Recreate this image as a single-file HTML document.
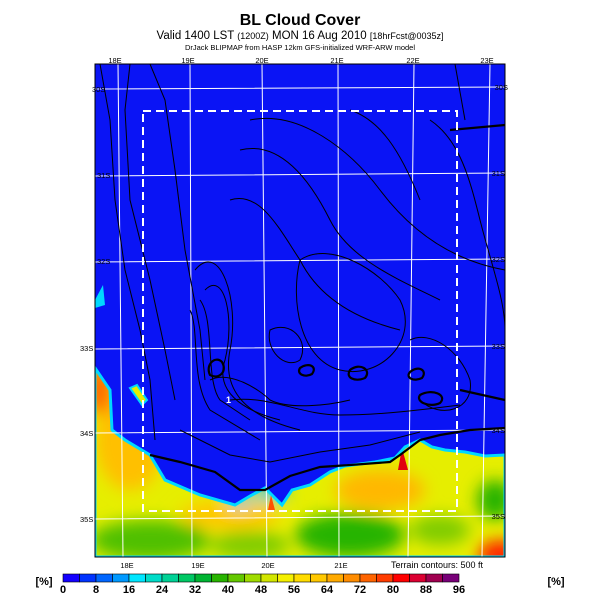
<!DOCTYPE html>
<html><head><meta charset="utf-8"><style>
body{margin:0;background:#fff;}
svg{display:block;font-family:"Liberation Sans",sans-serif;}
</style></head><body>
<svg width="600" height="600" viewBox="0 0 600 600">
<defs>
<clipPath id="mapclip"><rect x="95" y="64" width="410" height="493"/></clipPath>
<clipPath id="landclip"><path id="landpath" d="M95,368 L110,390 L112,430 L125,440 L150,455 L165,480 L200,495 L235,505 L250,496 L265,488 L275,498 L282,505 L292,490 L310,485 L330,472 L345,466 L375,462 L395,458 L405,447 L420,440 L432,447 L445,450 L465,452 L485,456 L505,455 L505,557 L95,557Z"/></clipPath>
<filter id="blur"><feGaussianBlur stdDeviation="8"/></filter>
</defs>
<text x="300" y="25" font-size="16" font-weight="bold" text-anchor="middle">BL Cloud Cover</text>
<text x="300" y="39" font-size="11.5" text-anchor="middle">Valid 1400 LST <tspan font-size="9">(1200Z)</tspan> MON 16 Aug 2010 <tspan font-size="9">[18hrFcst@0035z]</tspan></text>
<text x="300" y="50" font-size="7.5" text-anchor="middle">DrJack BLIPMAP from HASP 12km GFS-initialized WRF-ARW model</text>
<g clip-path="url(#mapclip)">
<rect x="95" y="64" width="410" height="493" fill="#0a14f5"/>
<g clip-path="url(#landclip)">
<rect x="95" y="360" width="410" height="200" fill="#e6ee00"/>
<g filter="url(#blur)">
<ellipse cx="130" cy="440" rx="35" ry="50" fill="#ffc000"/>
<ellipse cx="100" cy="390" rx="12" ry="25" fill="#ff6000"/>
<ellipse cx="230" cy="515" rx="50" ry="15" fill="#ffc800"/>
<ellipse cx="380" cy="490" rx="45" ry="20" fill="#ffb800"/>
<ellipse cx="150" cy="540" rx="60" ry="20" fill="#50c000"/>
<ellipse cx="250" cy="545" rx="40" ry="14" fill="#80cc00"/>
<ellipse cx="350" cy="535" rx="55" ry="22" fill="#28b400"/>
<ellipse cx="440" cy="530" rx="30" ry="15" fill="#80cc00"/>
<ellipse cx="495" cy="500" rx="18" ry="20" fill="#28b400"/>
<ellipse cx="500" cy="555" rx="22" ry="15" fill="#ff2000"/>
<ellipse cx="270" cy="492" rx="18" ry="8" fill="#00c8ff"/>
<ellipse cx="240" cy="500" rx="12" ry="6" fill="#00c8ff"/>
</g>
<path d="M398,470 L402,448 L408,470Z" fill="#e00010"/>
<path d="M268,510 L271,495 L275,510Z" fill="#ff5000"/>
</g>
<use href="#landpath" fill="none" stroke="#00d8ff" stroke-width="3"/>
<path d="M95,300 L103,285 L105,305 L95,308Z" fill="#00d8ff"/>
<path d="M130,388 L137,385 L147,400 L142,405Z" fill="#e6ee00" stroke="#00d8ff" stroke-width="2"/>
<g stroke="#fff" stroke-width="1" fill="none">
<path d="M118,64 L123,557 M190,64 L192,557 M262,64 L267,557 M338,64 L339,557 M414,64 L408,557 M490,64 L482,557"/>
<path d="M95,89 L505,87 M95,176 L505,173 M95,262 L505,259 M95,349 L505,346 M95,433 L505,430 M95,519 L505,516"/>
</g>
<g stroke="#000" stroke-width="1" fill="none">
<path d="M100,64 L110,120 L115,200 L125,270 L140,330 L150,380 L155,440"/>
<path d="M130,64 L125,110 L130,200 L150,280 L165,350 L175,400"/>
<path d="M150,64 L165,100 L175,170 L185,250 L200,330 L205,380"/>
<path d="M195,270 C220,240 240,300 230,350 C220,400 260,420 300,430"/>
<path d="M205,290 C225,270 235,320 225,360 C215,390 240,410 280,420"/>
<path d="M190,310 C200,330 190,380 210,410 L260,440"/>
<path d="M200,300 C215,320 205,380 220,400 L250,420"/>
<path d="M230,200 C260,190 280,230 300,260 C320,300 360,320 400,330"/>
<path d="M240,150 C280,140 310,180 330,220 C350,260 400,280 440,300"/>
<path d="M250,120 C300,110 350,150 380,190 C410,230 450,260 505,270"/>
<path d="M300,260 C330,240 380,270 400,300 C420,340 380,380 340,370 C300,360 290,300 300,260"/>
<path d="M410,340 C430,330 460,350 470,380 C475,410 440,420 420,400"/>
<path d="M430,120 C460,140 470,180 480,220 C490,260 505,300 505,330"/>
<path d="M455,64 L465,120"/>
<path d="M350,110 C380,120 400,150 420,200"/>
<path d="M270,330 C290,320 310,340 300,360 C285,370 265,350 270,330Z"/>
<path d="M210,380 C230,370 260,390 270,400 C290,410 330,405 350,400"/>
<path d="M230,400 C270,395 300,415 340,415 C380,415 420,410 460,405"/>
<path d="M180,430 L230,455 L270,462 L320,452 L370,445 L420,432"/>
</g>
<g stroke="#000" stroke-width="2.2" fill="none">
<path d="M150,455 L180,462 L215,472 L240,490 L265,490 L290,476 L320,467 L350,465 L390,462 L400,455 L420,440 L440,435 L470,430 L505,428"/>
<path d="M210,375 C205,365 215,355 222,362 C228,372 218,380 210,375Z"/>
<path d="M300,368 C308,362 318,366 312,374 C305,378 296,374 300,368Z"/>
<path d="M350,370 C360,362 372,370 365,378 C355,382 345,378 350,370Z"/>
<path d="M410,372 C418,365 428,370 422,378 C414,382 405,378 410,372Z"/>
<path d="M420,395 C432,388 448,395 440,403 C430,408 415,402 420,395Z"/>
<path d="M460,390 L505,400"/>
<path d="M450,130 L505,125"/>
</g>
<text x="226" y="403" font-size="9" fill="#fff" font-weight="bold">1</text>
<rect x="143" y="111" width="314" height="400" fill="none" stroke="#fff" stroke-width="2" stroke-dasharray="8,5"/>
</g>
<rect x="95" y="64" width="410" height="493" fill="none" stroke="#000" stroke-width="1"/>
<g font-size="7.5">
<text x="115" y="63" text-anchor="middle">18E</text><text x="188" y="63" text-anchor="middle">19E</text><text x="262" y="63" text-anchor="middle">20E</text><text x="337" y="63" text-anchor="middle">21E</text><text x="413" y="63" text-anchor="middle">22E</text><text x="487" y="63" text-anchor="middle">23E</text>
<text x="127" y="568" text-anchor="middle">18E</text><text x="198" y="568" text-anchor="middle">19E</text><text x="268" y="568" text-anchor="middle">20E</text><text x="341" y="568" text-anchor="middle">21E</text>
<text x="483" y="568" text-anchor="end" font-size="9">Terrain contours: 500 ft</text>
<text x="92" y="92">30S</text><text x="508" y="90" text-anchor="end">30S</text>
<text x="97" y="178">31S</text><text x="505" y="176" text-anchor="end">31S</text>
<text x="97" y="264">32S</text><text x="505" y="262" text-anchor="end">32S</text>
<text x="80" y="351">33S</text><text x="505" y="349" text-anchor="end">33S</text>
<text x="80" y="436">34S</text><text x="505" y="433" text-anchor="end">34S</text>
<text x="80" y="522">35S</text><text x="505" y="519" text-anchor="end">35S</text>
</g>
<g id="colorbar"></g>
<text x="44" y="585" font-size="11" font-weight="bold" text-anchor="middle">[%]</text>
<text x="556" y="585" font-size="11" font-weight="bold" text-anchor="middle">[%]</text>
<script>
const barColors=["#1400ff","#0033ff","#0066ff","#0099ff","#00e6ff","#00dcc8","#00d296","#00c864","#00b432","#28b400","#64c800","#a0dc00","#d2e600","#f5f000","#ffdc00","#ffc800","#ffaa00","#ff8c00","#ff6400","#ff3c00","#ff0000","#dc0032","#a00050","#780078"];
const tickLabels=["0","8","16","24","32","40","48","56","64","72","80","88","96"];
const g=document.getElementById('colorbar');
const NS='http://www.w3.org/2000/svg';
const x0=63,x1=459,w=(x1-x0)/barColors.length;
barColors.forEach((c,i)=>{
  const r=document.createElementNS(NS,'rect');
  r.setAttribute('x',x0+i*w);r.setAttribute('y',574);r.setAttribute('width',w);r.setAttribute('height',8);
  r.setAttribute('fill',c);r.setAttribute('stroke','#000');r.setAttribute('stroke-width','0.6');
  
  
  g.appendChild(r);
});
tickLabels.forEach((t,i)=>{
  const tx=document.createElementNS(NS,'text');
  tx.setAttribute('x',x0+i*2*w);tx.setAttribute('y',593);tx.setAttribute('font-size','11');tx.setAttribute('font-weight','bold');tx.setAttribute('text-anchor','middle');
  tx.textContent=t;
  
  
  g.appendChild(tx);
});
</script>
</svg>
</body></html>
